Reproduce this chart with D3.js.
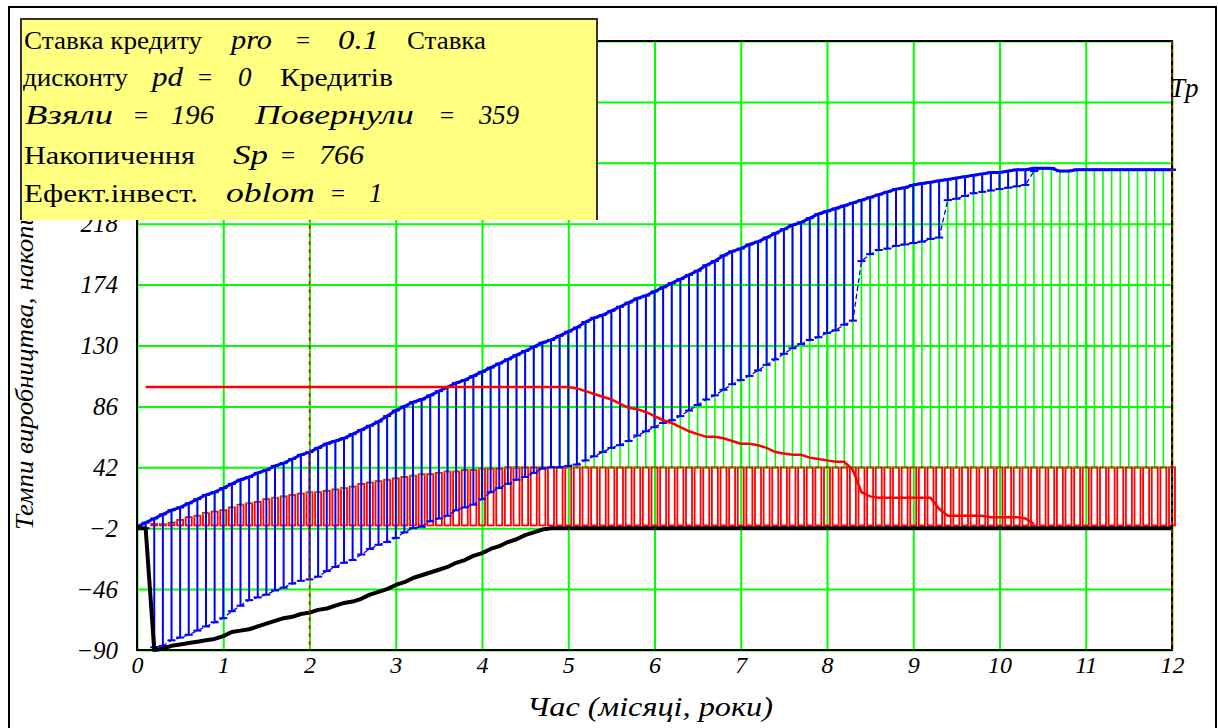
<!DOCTYPE html>
<html>
<head>
<meta charset="utf-8">
<script src="https://cdn.jsdelivr.net/npm/d3@7"></script>
<style>
  body { margin: 0; background: #fff; }
  svg { display: block; }
</style>
</head>
<body>
<svg id="chart" width="1218" height="728"></svg>
<script>
// Time steps (years)
const time = [
  0.0, 0.1, 0.2, 0.3, 0.4, 0.5, 0.6, 0.7, 0.8, 0.9,
  1.0, 1.1, 1.2, 1.3, 1.4, 1.5, 1.6, 1.7, 1.8, 1.9,
  2.0, 2.1, 2.2, 2.3, 2.4, 2.5, 2.6, 2.7, 2.8, 2.9,
  3.0, 3.1, 3.2, 3.3, 3.4, 3.5, 3.6, 3.7, 3.8, 3.9,
  4.0, 4.1, 4.2, 4.3, 4.4, 4.5, 4.6, 4.7, 4.8, 4.9,
  5.0, 5.1, 5.2, 5.3, 5.4, 5.5, 5.6, 5.7, 5.8, 5.9,
  6.0, 6.1, 6.2, 6.3, 6.4, 6.5, 6.6, 6.7, 6.8, 6.9,
  7.0, 7.1, 7.2, 7.3, 7.4, 7.5, 7.6, 7.7, 7.8, 7.9,
  8.0, 8.1, 8.2, 8.3, 8.4, 8.5, 8.6, 8.7, 8.8, 8.9,
  9.0, 9.1, 9.2, 9.3, 9.4, 9.5, 9.6, 9.7, 9.8, 9.9,
  10.0, 10.1, 10.2, 10.3, 10.4, 10.5, 10.6, 10.7, 10.8, 10.9,
  11.0, 11.1, 11.2, 11.3, 11.4, 11.5, 11.6, 11.7, 11.8, 11.9, 12.0
];

// Accumulation, upper envelope
const upper = [
  -1, 2, 5, 8, 11, 13, 16, 19, 22, 24,
  27, 30, 33, 35, 38, 40, 43, 45, 48, 51,
  53, 56, 59, 61, 63, 66, 69, 72, 75, 79,
  83, 86, 89, 91, 94, 97, 100, 103, 105, 108,
  111, 114, 117, 120, 123, 126, 129, 132, 134, 137,
  140, 143, 147, 150, 152, 155, 158, 161, 164, 166,
  169, 172, 175, 178, 181, 184, 188, 191, 195, 198,
  200, 203, 205, 208, 211, 214, 217, 219, 222, 225,
  227, 229, 231, 233, 235, 237, 239, 241, 243, 244,
  246, 247, 248, 249, 250, 251, 252, 253, 254, 255,
  255, 256, 257, 257, 258, 258, 258, 256, 256, 257,
  257, 257, 257, 257, 257, 257, 257, 257, 257, 257, 257
];

// Accumulation, lower envelope
const lower = [
  -2, -2, -88, -87, -83, -81, -79, -76, -73, -70,
  -67, -62, -58, -54, -52, -50, -47, -45, -42, -40,
  -39, -37, -33, -30, -27, -25, -21, -17, -14, -12,
  -9, -5, -2, -1, 3, 5, 7, 11, 13, 15,
  19, 24, 27, 30, 33, 35, 38, 41, 42, 42,
  43, 44, 47, 50, 53, 56, 58, 61, 65, 68,
  71, 74, 76, 79, 83, 87, 91, 94, 98, 102,
  105, 108, 112, 116, 120, 124, 128, 131, 134, 136,
  139, 141, 145, 148, 191, 196, 199, 200, 202, 203,
  204, 205, 207, 208, 235, 236, 238, 240, 241, 242,
  243, 244, 245, 246, 256, 258, 258, 256, 256, 257,
  257, 257, 257, 257, 257, 257, 257, 257, 257, 257, 257
];

// Production rate (bars)
const rate = [
  0, 0, 1, 1, 2, 4, 6, 7, 9, 10,
  11, 13, 15, 16, 17, 19, 20, 21, 22, 23,
  24, 24, 25, 26, 27, 28, 30, 31, 32, 33,
  34, 35, 36, 37, 37, 38, 39, 39, 40, 40,
  41, 41, 41, 42, 42, 42, 42, 42, 42, 42,
  42, 42, 42, 42, 42, 42, 42, 42, 42, 42,
  42, 42, 42, 42, 42, 42, 42, 42, 42, 42,
  42, 42, 42, 42, 42, 42, 42, 42, 42, 42,
  42, 42, 42, 42, 42, 42, 42, 42, 42, 42,
  42, 42, 42, 42, 42, 42, 42, 42, 42, 42,
  42, 42, 42, 42, 42, 42, 42, 42, 42, 42,
  42, 42, 42, 42, 42, 42, 42, 42, 42, 42, 42
];

// Outstanding credit
const credit = [
  null, 100, 100, 100, 100, 100, 100, 100, 100, 100,
  100, 100, 100, 100, 100, 100, 100, 100, 100, 100,
  100, 100, 100, 100, 100, 100, 100, 100, 100, 100,
  100, 100, 100, 100, 100, 100, 100, 100, 100, 100,
  100, 100, 100, 100, 100, 100, 100, 100, 100, 100,
  100, 99, 97, 95, 93, 91, 88, 85, 84, 82,
  79, 76, 74, 71, 68, 66, 64, 64, 63, 61,
  59, 59, 58, 56, 53, 52, 51, 51, 49, 48,
  47, 46, 46, 40, 24, 21, 20, 20, 20, 20,
  20, 20, 20, 12, 7, 7, 7, 7, 7, 6,
  6, 6, 6, 5, 1, null, null, null, null, null,
  null, null, null, null, null, null, null, null, null, null, null
];

// Cash balance
const balance = [
  -2, -2, -90, -89, -87, -86, -85, -84, -83, -82,
  -80, -77, -76, -75, -73, -71, -69, -67, -66, -64,
  -63, -61, -60, -58, -56, -55, -53, -50, -48, -46,
  -43, -41, -38, -36, -34, -32, -30, -27, -25, -22,
  -20, -17, -15, -12, -10, -7, -5, -3, -2, -2,
  -2, -2, -2, -2, -2, -2, -2, -2, -2, -2,
  -2, -2, -2, -2, -2, -2, -2, -2, -2, -2,
  -2, -2, -2, -2, -2, -2, -2, -2, -2, -2,
  -2, -2, -2, -2, -2, -2, -2, -2, -2, -2,
  -2, -2, -2, -2, -2, -2, -2, -2, -2, -2,
  -2, -2, -2, -2, -2, -2, -2, -2, -2, -2,
  -2, -2, -2, -2, -2, -2, -2, -2, -2, -2, -2
];

const xTicks = [0, 1, 2, 3, 4, 5, 6, 7, 8, 9, 10, 11, 12];
const yTicks = [-90, -46, -2, 42, 86, 130, 174, 218, 262, 306, 350];
const yLabelled = [-90, -46, -2, 42, 86, 130, 174, 218];   // the rest sit under the note
const markers = [2, 12];           // vertical marker lines (x = 2, x = Tp)

// Model parameters shown in the note
const pro = 0.1, pd = 0, taken = 196, returned = 359, Sp = 766, oblom = 1;

const rows = time.map((t, i) => ({
  t, up: upper[i], lo: lower[i], bar: rate[i], cr: credit[i], bal: balance[i]
}));

const svg = d3.select('#chart');
const x = d3.scaleLinear().domain([0, 12]).range([137, 1172]);
const y = d3.scaleLinear().domain([-90, 350]).range([650, 41]);

const SERIF = '"Liberation Serif", "Times New Roman", serif';
const GREEN = '#00ff00', BLUE = '#0000ff', RED = '#ff0000';

// Outer frame
svg.append('rect')
  .attr('x', 9).attr('y', 7).attr('width', 1207).attr('height', 740)
  .attr('fill', 'none').attr('stroke', '#000').attr('stroke-width', 2);

// Grid + tick labels from axes
const plotH = y(-90) - y(350), plotW = x(12) - x(0);
const gx = svg.append('g')
  .attr('transform', `translate(0,${y(-90)})`)
  .call(d3.axisBottom(x).tickValues(xTicks).tickSize(-plotH).tickPadding(6).tickFormat(d3.format('d')));
gx.select('.domain').remove();
gx.selectAll('.tick line').attr('stroke', GREEN).attr('stroke-width', 2);
gx.selectAll('.tick text')
  .attr('font-family', SERIF).attr('font-style', 'italic').attr('font-size', 24).attr('fill', '#000');

const fmtY = d3.format('d');
const gy = svg.append('g')
  .attr('transform', `translate(${x(0)},0)`)
  .call(d3.axisLeft(y).tickValues(yTicks).tickSize(-plotW).tickPadding(19)
    .tickFormat(d => yLabelled.includes(d) ? fmtY(d) : ''));
gy.select('.domain').remove();
gy.selectAll('.tick line').attr('stroke', GREEN).attr('stroke-width', 2);
gy.selectAll('.tick text')
  .attr('font-family', SERIF).attr('font-style', 'italic').attr('font-size', 25).attr('fill', '#000');

const plot = svg.append('g');

// Green stems from the bar tops up to the accumulation
plot.append('g').selectAll('line')
  .data(rows.filter(d => d.t > 0 && d.up > d.bar))
  .join('line')
  .attr('x1', d => x(d.t)).attr('x2', d => x(d.t))
  .attr('y1', d => y(d.bar)).attr('y2', d => y(d.up))
  .attr('stroke', GREEN).attr('stroke-width', 1.6);

// Hollow red bars: production rate
plot.append('g').selectAll('rect')
  .data(rows.filter(d => d.bar > 0))
  .join('rect')
  .attr('x', d => x(d.t) - 3).attr('width', 6)
  .attr('y', d => y(d.bar)).attr('height', d => y(0) - y(d.bar))
  .attr('fill', 'none').attr('stroke', RED).attr('stroke-width', 1.8);

// Dotted trace along the bar tops
plot.append('path')
  .datum(rows.filter(d => d.t >= 0.2))
  .attr('d', d3.line().x(d => x(d.t)).y(d => y(d.bar)))
  .attr('fill', 'none').attr('stroke', GREEN).attr('stroke-width', 1)
  .attr('stroke-dasharray', '2,3');

// Blue error bars between lower and upper envelopes
const spans = rows.filter(d => d.t > 0);
plot.append('g').selectAll('line')
  .data(spans.filter(d => d.up > d.lo))
  .join('line')
  .attr('x1', d => x(d.t)).attr('x2', d => x(d.t))
  .attr('y1', d => y(d.lo)).attr('y2', d => y(d.up))
  .attr('stroke', BLUE).attr('stroke-width', 2);

const caps = plot.append('g').attr('stroke', BLUE).attr('stroke-width', 2);
caps.selectAll('line.top')
  .data(spans).join('line').attr('class', 'top')
  .attr('x1', d => x(d.t) - 4).attr('x2', d => x(d.t) + 4)
  .attr('y1', d => y(d.up)).attr('y2', d => y(d.up));
caps.selectAll('line.bot')
  .data(spans).join('line').attr('class', 'bot')
  .attr('x1', d => x(d.t) - 4).attr('x2', d => x(d.t) + 4)
  .attr('y1', d => y(d.lo)).attr('y2', d => y(d.lo));

// Envelope traces
plot.append('path')
  .datum(rows)
  .attr('d', d3.line().x(d => x(d.t)).y(d => y(d.lo)))
  .attr('fill', 'none').attr('stroke', BLUE).attr('stroke-width', 1.3)
  .attr('stroke-dasharray', '5,3');
plot.append('path')
  .datum(rows)
  .attr('d', d3.line().x(d => x(d.t)).y(d => y(d.up)))
  .attr('fill', 'none').attr('stroke', BLUE).attr('stroke-width', 3);

// Credit line
plot.append('path')
  .datum(rows)
  .attr('d', d3.line().defined(d => d.cr != null).x(d => x(d.t)).y(d => y(d.cr)))
  .attr('fill', 'none').attr('stroke', RED).attr('stroke-width', 2.5);

// Cash balance
plot.append('path')
  .datum(rows)
  .attr('d', d3.line().x(d => x(d.t)).y(d => y(d.bal)))
  .attr('fill', 'none').attr('stroke', '#000').attr('stroke-width', 4)
  .attr('stroke-linejoin', 'round');

// Plot box
svg.append('rect')
  .attr('x', x(0)).attr('y', y(350)).attr('width', plotW).attr('height', plotH)
  .attr('fill', 'none').attr('stroke', '#000').attr('stroke-width', 2);

// Marker lines
svg.append('g').selectAll('line')
  .data(markers).join('line')
  .attr('x1', d => x(d)).attr('x2', d => x(d))
  .attr('y1', y(350)).attr('y2', y(-90))
  .attr('stroke', RED).attr('stroke-width', 1.5).attr('stroke-dasharray', '4,4');

svg.append('text')
  .attr('x', x(12) - 2).attr('y', 97)
  .attr('font-family', SERIF).attr('font-style', 'italic').attr('font-size', 27)
  .text('Tp');

// Axis titles
svg.append('text')
  .attr('x', 527).attr('y', 716)
  .attr('font-family', SERIF).attr('font-style', 'italic').attr('font-size', 27)
  .attr('textLength', 246).attr('lengthAdjust', 'spacingAndGlyphs')
  .text('Час (місяці, роки)');

// The y title runs up behind the note; keep only what shows outside it
const defs = svg.append('defs');
const clip = defs.append('clipPath').attr('id', 'ytitle-clip');
clip.append('rect').attr('x', 0).attr('y', 0).attr('width', 21).attr('height', 728);
clip.append('rect').attr('x', 0).attr('y', 221).attr('width', 137).attr('height', 507);
svg.append('g').attr('clip-path', 'url(#ytitle-clip)')
  .append('text')
  .attr('transform', 'translate(33,530) rotate(-90)')
  .attr('font-family', SERIF).attr('font-style', 'italic').attr('font-size', 25)
  .attr('textLength', 382).attr('lengthAdjust', 'spacingAndGlyphs')
  .text('Темпи виробництва, накопичення');

// Parameter note
const note = svg.append('g');
note.append('rect')
  .attr('x', 21).attr('y', 19).attr('width', 576).attr('height', 201)
  .attr('fill', '#ffff80');
note.append('path')
  .attr('d', 'M21,220V19H597V220')
  .attr('fill', 'none').attr('stroke', '#333').attr('stroke-width', 2);

// Each line of the note: [left x, text, fitted width or null, italic]
const lineY = [49, 86, 124, 164, 202];
const noteLines = [
  [[24, 'Ставка кредиту', 178, false], [231, 'pro', 41, true], [296, '=', null, false],
   [338, String(pro), 41, true], [407, 'Ставка', 79, false]],
  [[23, 'дисконту', 105, false], [152, 'pd', 31, true], [198, '=', null, false],
   [238, String(pd), null, true], [280, 'Кредитів', 113, false]],
  [[25, 'Взяли', 88, true], [134, '=', null, false], [171, String(taken), 43, true],
   [255, 'Повернули', 159, true], [440, '=', null, false], [479, String(returned), 40, true]],
  [[24, 'Накопичення', 171, false], [233, 'Sp', 35, true], [281, '=', null, false],
   [319, String(Sp), 45, true]],
  [[24, 'Ефект.інвест.', 174, false], [226, 'oblom', 89, true], [331, '=', null, false],
   [369, String(oblom), null, true]]
];
const pieces = noteLines.flatMap((parts, li) =>
  parts.map(([px, s, w, it]) => ({ x: px, y: lineY[li], s, w, it })));

note.selectAll('text.p')
  .data(pieces).join('text').attr('class', 'p')
  .attr('x', d => d.x).attr('y', d => d.y)
  .attr('font-family', SERIF)
  .attr('font-style', d => d.it ? 'italic' : 'normal')
  .attr('font-size', d => d.it ? 27 : 25)
  .each(function (d) {
    if (d.w) d3.select(this).attr('textLength', d.w).attr('lengthAdjust', 'spacingAndGlyphs');
  })
  .text(d => d.s);
</script>
</body>
</html>
